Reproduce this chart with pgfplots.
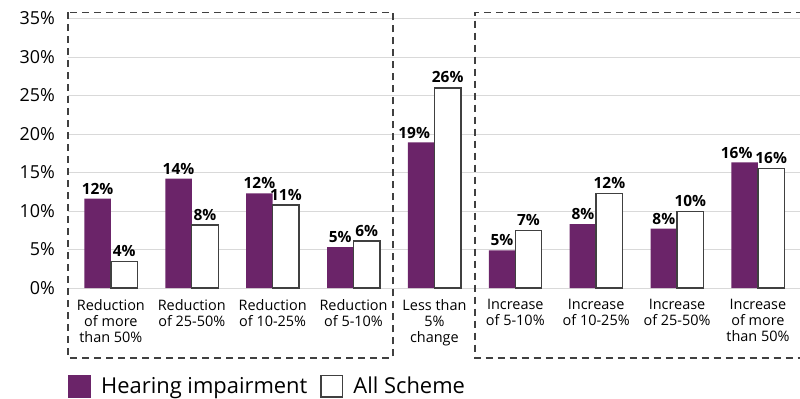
\documentclass[border=0pt]{standalone}
\usepackage{pgfplots}
\pgfplotsset{compat=1.18}
\usepackage{fontspec}
\setmainfont{Open Sans}
\definecolor{hipurple}{HTML}{6B2469}
\definecolor{gridgrey}{HTML}{D9D9D9}
\definecolor{boxgrey}{HTML}{404040}

\begin{document}
\begin{tikzpicture}
\useasboundingbox (0,0) rectangle (800bp,-399bp);
\begin{axis}[
  at={(68bp,-288bp)}, anchor=south west,
  scale only axis, width=732bp, height=269.5bp,
  xmin=-0.53, xmax=8.52, ymin=0, ymax=35,
  axis line style={draw=none},
  major tick length=0pt,
  ymajorgrids, grid style={gridgrey, line width=1bp},
  ybar=0pt, bar width=26.5bp,
  xtick={0,...,8},
  xticklabels={{Reduction\\of more\\than 50\%},{Reduction\\of 25-50\%},{Reduction\\of 10-25\%},{Reduction\\of 5-10\%},{Less than\\5\%\\change},{Increase\\of 5-10\%},{Increase\\of 10-25\%},{Increase\\of 25-50\%},{Increase\\of more\\than 50\%}},
  xticklabel style={font=\fontsize{14.5}{16}\selectfont, align=center, inner sep=0pt, anchor=north, yshift=-11bp},
  ytick={0,5,...,35},
  yticklabels={0\%,5\%,10\%,15\%,20\%,25\%,30\%,35\%},
  yticklabel style={font=\fontsize{18}{18}\selectfont, inner sep=0pt, anchor=east, xshift=-13bp},
  point meta=explicit symbolic,
  nodes near coords,
  nodes near coords style={font=\bfseries\fontsize{15.5}{16}\selectfont, text=black, inner sep=1bp, anchor=south, yshift=3bp},
  clip=false,
  legend columns=2,
  legend style={at={(0,-0.364)}, anchor=west, draw=none, fill=none, inner sep=0pt,
    font=\fontsize{22}{24}\selectfont,
    nodes={inner sep=0pt},
    /tikz/every odd column/.append style={column sep=10bp},
    /tikz/every even column/.append style={column sep=13bp}},
]
% labels of 19% and 16% sit a little to the left, as in the source
\addplot[fill=hipurple, draw=none,
  legend image code/.code={\path[fill=hipurple] (0bp,-11.5bp) rectangle (23bp,11.5bp);}]
  coordinates {(0,11.6)[12\%] (1,14.2)[14\%] (2,12.3)[12\%] (3,5.3)[5\%] (4,18.9)[19\%\hspace*{14bp}] (5,4.9)[5\%] (6,8.3)[8\%] (7,7.7)[8\%] (8,16.3)[16\%\hspace*{16bp}]};
\addplot[fill=white, draw=boxgrey, line width=1.4bp,
  legend image code/.code={\draw[fill=white, draw=boxgrey, line width=1.4bp] (0.7bp,-10.8bp) rectangle (22.3bp,10.8bp);}]
  coordinates {(0,3.45)[4\%] (1,8.2)[8\%] (2,10.8)[11\%] (3,6.1)[6\%] (4,26.0)[26\%] (5,7.5)[7\%] (6,12.3)[12\%] (7,9.9)[10\%] (8,15.5)[16\%]};
\legend{Hearing impairment, All Scheme}
\draw[boxgrey, line width=1.3bp, dash pattern=on 7bp off 5bp] (axis cs:-0.53,35.8) rectangle (axis cs:3.487,-9.08);
\draw[boxgrey, line width=1.3bp, dash pattern=on 7bp off 5bp] (axis cs:8.7,35.8) -- (axis cs:4.50,35.8) -- (axis cs:4.50,-9.08) -- (axis cs:8.7,-9.08);
\end{axis}
\end{tikzpicture}
\end{document}
